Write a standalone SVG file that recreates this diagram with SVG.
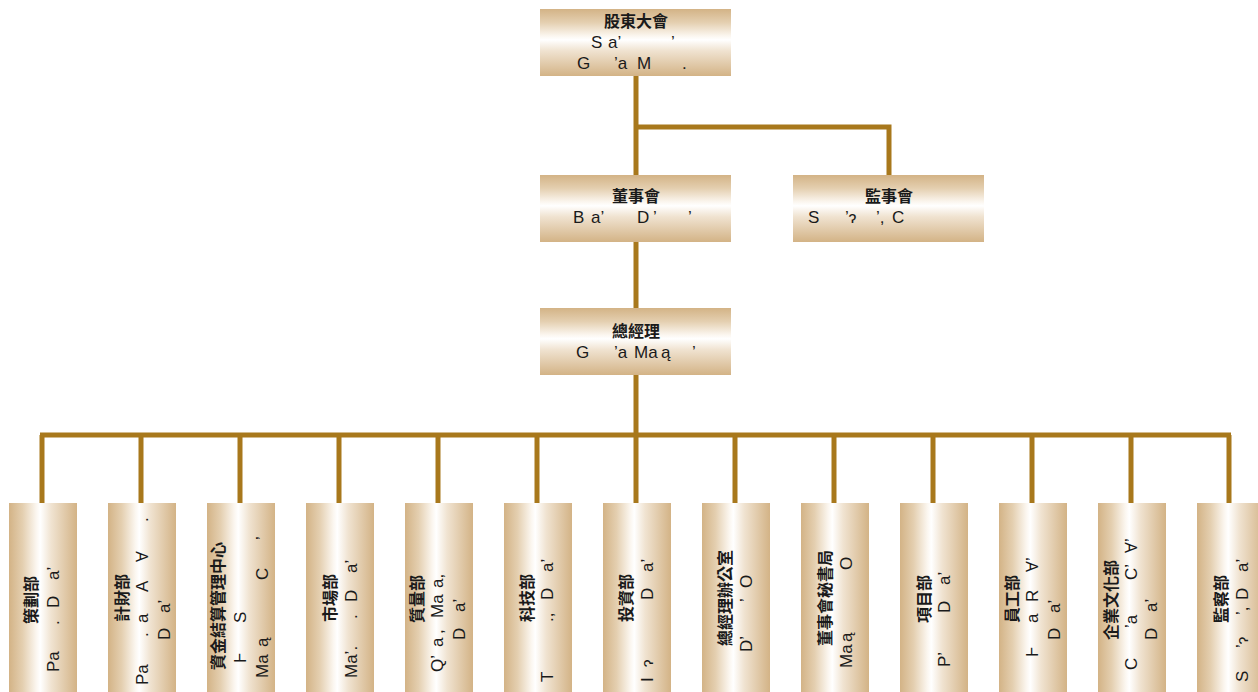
<svg xmlns="http://www.w3.org/2000/svg" width="1258" height="692" viewBox="0 0 1258 692">
<style>
.zh{font-family:"Noto Sans CJK TC","Noto Sans CJK SC",sans-serif;font-size:16px;font-weight:700;fill:#1a1a1a}
.en{font-family:"Liberation Sans",Arial,sans-serif;font-size:17px;fill:#1a1a1a}
.wire{fill:none;stroke:#a8781c;stroke-width:5}
</style>
<defs>
<linearGradient id="gv" x1="0" y1="0" x2="0" y2="1">
<stop offset="0" stop-color="#d3b386"/>
<stop offset="0.2" stop-color="#e4cfb0"/>
<stop offset="0.4" stop-color="#fbf6ef"/>
<stop offset="0.46" stop-color="#ffffff"/>
<stop offset="0.62" stop-color="#f0e3d1"/>
<stop offset="1" stop-color="#d3b386"/>
</linearGradient>
<linearGradient id="gh" x1="0" y1="0" x2="1" y2="0">
<stop offset="0" stop-color="#d3b386"/>
<stop offset="0.2" stop-color="#e4cfb0"/>
<stop offset="0.4" stop-color="#fbf6ef"/>
<stop offset="0.46" stop-color="#ffffff"/>
<stop offset="0.62" stop-color="#f0e3d1"/>
<stop offset="1" stop-color="#d3b386"/>
</linearGradient>
</defs>

<g id="connectors">
<path class="wire" d="M636 76V175M636 127H889V175M636 242V308M636 375V435M40 435H1231"/>
<path class="wire" d="M42 435V503M141 435V503M240 435V503M339 435V503M438 435V503M537 435V503M636 435V503M735 435V503M834 435V503M933 435V503M1032 435V503M1131 435V503M1229 435V503"/>
</g>

<g id="n-shareholders">
<rect x="540" y="9" width="191" height="67" fill="url(#gv)"/>
<text class="zh" x="636" y="27" text-anchor="middle">股東大會</text>
<text class="en" y="48"><tspan x="591">S</tspan><tspan x="608">a’</tspan><tspan x="671">’</tspan></text>
<text class="en" y="69"><tspan x="577">G</tspan><tspan x="614">’a</tspan><tspan x="637">M</tspan><tspan x="682">.</tspan></text>
</g>

<g id="n-board">
<rect x="540" y="175" width="191" height="67" fill="url(#gv)"/>
<text class="zh" x="636" y="202" text-anchor="middle">董事會</text>
<text class="en" y="223"><tspan x="573">B</tspan><tspan x="591">a’</tspan><tspan x="637">D</tspan><tspan x="653">’</tspan><tspan x="688">’</tspan></text>
</g>

<g id="n-supervisory">
<rect x="793" y="175" width="191" height="67" fill="url(#gv)"/>
<text class="zh" x="889" y="202" text-anchor="middle">監事會</text>
<text class="en" y="223"><tspan x="808">S</tspan><tspan x="845">’ɂ</tspan><tspan x="876">’,</tspan><tspan x="892">C</tspan></text>
</g>

<g id="n-gm">
<rect x="540" y="308" width="191" height="67" fill="url(#gv)"/>
<text class="zh" x="636" y="337" text-anchor="middle">總經理</text>
<text class="en" y="358"><tspan x="576">G</tspan><tspan x="614">’a</tspan><tspan x="634">Ma</tspan><tspan x="661">ą</tspan><tspan x="692">’</tspan></text>
</g>

<g id="n-planning">
<rect x="9" y="503" width="68" height="189" fill="url(#gh)"/>
<text class="zh" transform="translate(37 600) rotate(-90)" text-anchor="middle">策劃部</text>
<text class="en" transform="translate(59 692) rotate(-90)"><tspan x="20">Pa</tspan><tspan x="67">.</tspan><tspan x="84">D</tspan><tspan x="112">a’</tspan></text>
</g>

<g id="n-finance">
<rect x="108" y="503" width="68" height="189" fill="url(#gh)"/>
<text class="zh" transform="translate(128 598) rotate(-90)" text-anchor="middle">計財部</text>
<text class="en" transform="translate(148 692) rotate(-90)"><tspan x="7">Pa</tspan><tspan x="55">.</tspan><tspan x="69">a</tspan><tspan x="100">A</tspan><tspan x="130">Ɐ</tspan><tspan x="170">.</tspan></text>
<text class="en" transform="translate(170 692) rotate(-90)"><tspan x="52">D</tspan><tspan x="79">a’</tspan></text>
</g>

<g id="n-settlement">
<rect x="207" y="503" width="68" height="189" fill="url(#gh)"/>
<text class="zh" transform="translate(224 606) rotate(-90)" text-anchor="middle">資金結算管理中心</text>
<text class="en" transform="translate(246 692) rotate(-90)"><tspan x="29">Ⱶ</tspan><tspan x="69">S</tspan></text>
<text class="en" transform="translate(268 692) rotate(-90)"><tspan x="14">Ma</tspan><tspan x="45">ą</tspan><tspan x="112">C</tspan><tspan x="152">’</tspan></text>
</g>

<g id="n-marketing">
<rect x="306" y="503" width="68" height="189" fill="url(#gh)"/>
<text class="zh" transform="translate(336 598) rotate(-90)" text-anchor="middle">市場部</text>
<text class="en" transform="translate(357 692) rotate(-90)"><tspan x="14">Ma’.</tspan><tspan x="73">.</tspan><tspan x="90">D</tspan><tspan x="119">a’</tspan></text>
</g>

<g id="n-quality">
<rect x="405" y="503" width="68" height="189" fill="url(#gh)"/>
<text class="zh" transform="translate(423 599) rotate(-90)" text-anchor="middle">質量部</text>
<text class="en" transform="translate(443 692) rotate(-90)"><tspan x="20">Q’</tspan><tspan x="45">a</tspan><tspan x="58">,</tspan><tspan x="74">Ma</tspan><tspan x="104">a,</tspan></text>
<text class="en" transform="translate(465 692) rotate(-90)"><tspan x="52">D</tspan><tspan x="80">a’</tspan></text>
</g>

<g id="n-technology">
<rect x="504" y="503" width="68" height="189" fill="url(#gh)"/>
<text class="zh" transform="translate(533 598) rotate(-90)" text-anchor="middle">科技部</text>
<text class="en" transform="translate(553 692) rotate(-90)"><tspan x="10">T</tspan><tspan x="70">.,</tspan><tspan x="92">D</tspan><tspan x="120">a’</tspan></text>
</g>

<g id="n-investment">
<rect x="603" y="503" width="68" height="189" fill="url(#gh)"/>
<text class="zh" transform="translate(632 598) rotate(-90)" text-anchor="middle">投資部</text>
<text class="en" transform="translate(653 692) rotate(-90)"><tspan x="10">I</tspan><tspan x="25">ɂ</tspan><tspan x="92">D</tspan><tspan x="120">a’</tspan></text>
</g>

<g id="n-gmoffice">
<rect x="702" y="503" width="68" height="189" fill="url(#gh)"/>
<text class="zh" transform="translate(731 598) rotate(-90)" text-anchor="middle">總經理辦公室</text>
<text class="en" transform="translate(752 692) rotate(-90)"><tspan x="40">D’</tspan><tspan x="90">’</tspan><tspan x="104">O</tspan></text>
</g>

<g id="n-secretariat">
<rect x="801" y="503" width="68" height="189" fill="url(#gh)"/>
<text class="zh" transform="translate(831 598) rotate(-90)" text-anchor="middle">董事會秘書局</text>
<text class="en" transform="translate(852 692) rotate(-90)"><tspan x="24">Ma</tspan><tspan x="50">ą</tspan><tspan x="122">O</tspan></text>
</g>

<g id="n-project">
<rect x="900" y="503" width="68" height="189" fill="url(#gh)"/>
<text class="zh" transform="translate(930 599) rotate(-90)" text-anchor="middle">項目部</text>
<text class="en" transform="translate(950 692) rotate(-90)"><tspan x="25">P’</tspan><tspan x="79">D</tspan><tspan x="107">a’</tspan></text>
</g>

<g id="n-hr">
<rect x="999" y="503" width="68" height="189" fill="url(#gh)"/>
<text class="zh" transform="translate(1018 599) rotate(-90)" text-anchor="middle">員工部</text>
<text class="en" transform="translate(1038 692) rotate(-90)"><tspan x="35">Ⱶ</tspan><tspan x="69">a</tspan><tspan x="90">R</tspan><tspan x="120">Ɐ’</tspan></text>
<text class="en" transform="translate(1060 692) rotate(-90)"><tspan x="52">D</tspan><tspan x="79">a’</tspan></text>
</g>

<g id="n-culture">
<rect x="1098" y="503" width="68" height="189" fill="url(#gh)"/>
<text class="zh" transform="translate(1117 600) rotate(-90)" text-anchor="middle">企業文化部</text>
<text class="en" transform="translate(1137 692) rotate(-90)"><tspan x="22">C</tspan><tspan x="64">’a</tspan><tspan x="112">C’</tspan><tspan x="139">Ɐ’</tspan></text>
<text class="en" transform="translate(1157 692) rotate(-90)"><tspan x="52">D</tspan><tspan x="80">a’</tspan></text>
</g>

<g id="n-audit">
<rect x="1197" y="503" width="68" height="189" fill="url(#gh)"/>
<text class="zh" transform="translate(1227 599) rotate(-90)" text-anchor="middle">監察部</text>
<text class="en" transform="translate(1248 692) rotate(-90)"><tspan x="10">S</tspan><tspan x="44">’ɂ</tspan><tspan x="77">’,</tspan><tspan x="92">D</tspan><tspan x="120">a’</tspan></text>
</g>
</svg>
